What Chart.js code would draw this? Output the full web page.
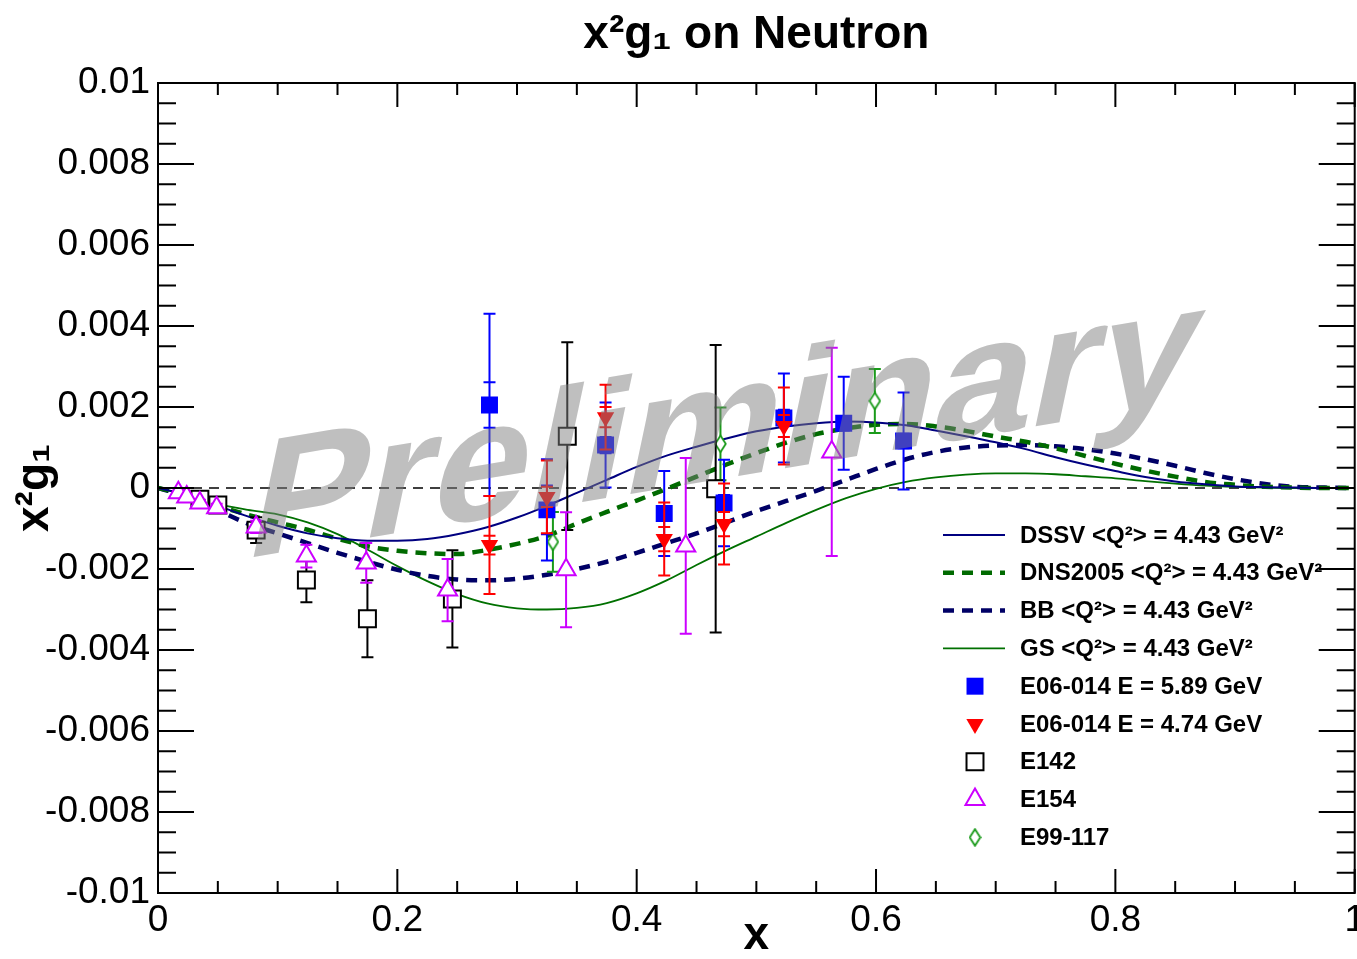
<!DOCTYPE html>
<html>
<head>
<meta charset="utf-8">
<title>x2g1 on Neutron</title>
<script src="https://cdn.jsdelivr.net/npm/chart.js@4.4.1/dist/chart.umd.min.js"></script>
<style>
  html, body { margin: 0; padding: 0; background: #fff; overflow: hidden; }
  #wrap { width: 1357px; height: 959px; overflow: hidden; }
</style>
</head>
<body>
<div id="wrap"><canvas id="g1-chart" width="1371" height="959"></canvas></div>
<script>
// Axis ticks
const xTickValues = [0, 0.2, 0.4, 0.6, 0.8, 1];
const xTickLabels = ['0', '0.2', '0.4', '0.6', '0.8', '1'];
const yTickValues = [-0.01, -0.008, -0.006, -0.004, -0.002, 0, 0.002, 0.004, 0.006, 0.008, 0.01];
const yTickLabels = ['-0.01', '-0.008', '-0.006', '-0.004', '-0.002', '0', '0.002', '0.004', '0.006', '0.008', '0.01'];

// Model curves, <Q^2> = 4.43 GeV^2
const curveX = [0, 0.025, 0.05, 0.075, 0.1, 0.125, 0.15, 0.175, 0.2, 0.225, 0.25, 0.275, 0.3, 0.325, 0.35, 0.375, 0.4,
  0.425, 0.45, 0.475, 0.5, 0.525, 0.55, 0.575, 0.6, 0.625, 0.65, 0.675, 0.7, 0.725, 0.75, 0.775, 0.8, 0.825, 0.85,
  0.875, 0.9, 0.925, 0.95, 0.975, 1];
const dssvY = [0, -0.00018, -0.00044, -0.00070, -0.00093, -0.00112, -0.00124, -0.00130, -0.00130, -0.00126, -0.00114,
  -0.00097, -0.00073, -0.00044, -0.00012, 0.00020, 0.00052, 0.00080, 0.00102, 0.00122, 0.00140, 0.00152, 0.00160,
  0.00164, 0.00162, 0.00155, 0.00142, 0.00128, 0.00113, 0.00096, 0.00076, 0.00058, 0.00042, 0.00027, 0.00016,
  0.00009, 0.00004, 0.00002, 0.00001, 0, 0];
const dnsY = [0, -0.00018, -0.00044, -0.00066, -0.00085, -0.00103, -0.00125, -0.00144, -0.00155, -0.00161, -0.00163,
  -0.00153, -0.00138, -0.00118, -0.00088, -0.00059, -0.00031, -0.00002, 0.00028, 0.00058, 0.00086, 0.00112, 0.00133,
  0.00147, 0.00156, 0.00158, 0.00152, 0.00141, 0.00127, 0.00114, 0.00098, 0.00079, 0.00060, 0.00043, 0.00028,
  0.00015, 0.00008, 0.00003, 0.00001, 0, 0];
const bbY = [0, -0.00022, -0.00055, -0.00088, -0.00112, -0.00136, -0.00160, -0.00182, -0.00202, -0.00217, -0.00226,
  -0.00228, -0.00224, -0.00214, -0.00200, -0.00182, -0.00160, -0.00136, -0.00112, -0.00085, -0.00057, -0.00032,
  -0.00007, 0.00020, 0.00047, 0.00071, 0.00089, 0.00100, 0.00105, 0.00106, 0.00103, 0.00096, 0.00085, 0.00071,
  0.00055, 0.00037, 0.00022, 0.00010, 0.00003, 0.00001, 0];
const gsY = [0, -0.00018, -0.00040, -0.00054, -0.00065, -0.00085, -0.00114, -0.00152, -0.00193, -0.00230, -0.00262,
  -0.00285, -0.00297, -0.00300, -0.00296, -0.00284, -0.00260, -0.00228, -0.00190, -0.00154, -0.00120, -0.00086,
  -0.00054, -0.00025, -0.00002, 0.00015, 0.00026, 0.00033, 0.00036, 0.00036, 0.00034, 0.00029, 0.00024, 0.00017,
  0.00011, 0.00006, 0.00003, 0.00001, 0, 0, 0];

// E06-014, E = 5.89 GeV (total and stat errors)
const e589X = [0.277, 0.325, 0.374, 0.423, 0.473, 0.523, 0.573, 0.623];
const e589Y = [0.00205, -0.00054, 0.00106, -0.00063, -0.00037, 0.00173, 0.00160, 0.00116];
const e589Err = [0.00225, 0.00125, 0.00105, 0.00105, 0.00107, 0.00110, 0.00115, 0.00120];
const e589Stat = [0.00056, 0.00060, 0.00020, 0.00018, 0.00020, 0.00020, 0.00018, 0.00018];

// E06-014, E = 4.74 GeV
const e474X = [0.277, 0.325, 0.374, 0.423, 0.473, 0.523];
const e474Y = [-0.00141, -0.00022, 0.00175, -0.00126, -0.00089, 0.00153];
const e474Err = [0.00121, 0.00090, 0.00080, 0.00090, 0.00100, 0.00095];
const e474Stat = [0.00023, 0.00025, 0.00025, 0.00030, 0.00030, 0.00027];

// E142
const e142X = [0.035, 0.050, 0.082, 0.124, 0.175, 0.246, 0.342, 0.466];
const e142Y = [-0.00028, -0.00042, -0.00104, -0.00227, -0.00323, -0.00274, 0.00128, -0.00002];
const e142Err = [0.00010, 0.00012, 0.00032, 0.00055, 0.00095, 0.00120, 0.00232, 0.00355];

// E154
const e154X = [0.017, 0.024, 0.035, 0.049, 0.082, 0.124, 0.174, 0.242, 0.341, 0.441, 0.563];
const e154Y = [-0.00012, -0.00022, -0.00037, -0.00049, -0.00096, -0.00168, -0.00185, -0.00252, -0.00202, -0.00143, 0.00089];
const e154Err = [0.00005, 0.00006, 0.00008, 0.00010, 0.00015, 0.00028, 0.00049, 0.00077, 0.00142, 0.00217, 0.00257];

// E99-117
const e99X = [0.330, 0.470, 0.599];
const e99Y = [-0.00133, 0.00109, 0.00215];
const e99Err = [0.00074, 0.00090, 0.00079];

const FONT = '"Liberation Sans", Arial, Helvetica, sans-serif';
Chart.defaults.font.family = FONT;
Chart.defaults.color = '#000';

function pts(xs, ys) {
  return xs.map((x, i) => ({x: x, y: ys[i]}));
}

// open diamond marker for E99-117
function makeDiamond(color) {
  const c = document.createElement('canvas');
  c.width = 13; c.height = 19;
  const g = c.getContext('2d');
  g.beginPath();
  g.moveTo(6.5, 1.2); g.lineTo(11.8, 9.5); g.lineTo(6.5, 17.8); g.lineTo(1.2, 9.5); g.closePath();
  g.fillStyle = '#fff'; g.fill();
  g.strokeStyle = color; g.lineWidth = 1.8; g.stroke();
  return c;
}

function curve(label, ys, color, width, dash) {
  return {
    label: label, type: 'line', data: pts(curveX, ys),
    borderColor: color, borderWidth: width, borderDash: dash,
    pointRadius: 0, cubicInterpolationMode: 'monotone', fill: false, order: 10
  };
}

const datasets = [
  curve('DSSV <Q²> = 4.43 GeV²', dssvY, '#000080', 2, []),
  curve('DNS2005 <Q²> = 4.43 GeV²', dnsY, '#006a00', 4.5, [11, 8]),
  curve('BB <Q²> = 4.43 GeV²', bbY, '#000066', 4.5, [11, 8]),
  curve('GS <Q²> = 4.43 GeV²', gsY, '#007000', 1.8, []),
  {label: 'E06-014 E = 5.89 GeV', data: pts(e589X, e589Y), errTot: e589Err, errStat: e589Stat,
    pointStyle: 'rect', pointRadius: 12, backgroundColor: '#0000ff', borderColor: '#0000ff', borderWidth: 0, order: 3},
  {label: 'E06-014 E = 4.74 GeV', data: pts(e474X, e474Y), errTot: e474Err, errStat: e474Stat,
    pointStyle: 'triangle', rotation: 180, pointRadius: 10, backgroundColor: '#ff0000', borderColor: '#ff0000', borderWidth: 0, order: 2},
  {label: 'E142', data: pts(e142X, e142Y), errTot: e142Err,
    pointStyle: 'rect', pointRadius: 12, backgroundColor: '#ffffff', borderColor: '#000000', borderWidth: 2, order: 5},
  {label: 'E154', data: pts(e154X, e154Y), errTot: e154Err,
    pointStyle: 'triangle', pointRadius: 11, backgroundColor: '#ffffff', borderColor: '#cc00ff', borderWidth: 2, order: 1},
  {label: 'E99-117', data: pts(e99X, e99Y), errTot: e99Err,
    pointStyle: makeDiamond('#1a9a1a'), pointRadius: 8, backgroundColor: '#ffffff', borderColor: '#1a9a1a', borderWidth: 2, order: 6}
];

// error bars drawn just before the markers of each data set
const errorBarPlugin = {
  id: 'errorBars',
  beforeDatasetDraw(chart, args) {
    const ds = chart.data.datasets[args.index];
    if (!ds.errTot) return;
    const xs = chart.scales.x, ys = chart.scales.y, ctx = chart.ctx;
    const cap = 6;
    ctx.save();
    ctx.strokeStyle = ds.borderColor;
    ctx.lineWidth = 2;
    ctx.beginPath();
    ds.data.forEach((p, i) => {
      const px = xs.getPixelForValue(p.x);
      const top = ys.getPixelForValue(p.y + ds.errTot[i]);
      const bot = ys.getPixelForValue(p.y - ds.errTot[i]);
      ctx.moveTo(px, top); ctx.lineTo(px, bot);
      ctx.moveTo(px - cap, top); ctx.lineTo(px + cap, top);
      ctx.moveTo(px - cap, bot); ctx.lineTo(px + cap, bot);
      if (ds.errStat) {
        const st = ys.getPixelForValue(p.y + ds.errStat[i]);
        const sb = ys.getPixelForValue(p.y - ds.errStat[i]);
        ctx.moveTo(px - cap, st); ctx.lineTo(px + cap, st);
        ctx.moveTo(px - cap, sb); ctx.lineTo(px + cap, sb);
      }
    });
    ctx.stroke();
    ctx.restore();
  }
};

function drawMarker(ctx, ds, x, y) {
  const st = ds.pointStyle, r = ds.pointRadius;
  ctx.save();
  ctx.translate(x, y);
  if (typeof st === 'object') {
    ctx.drawImage(st, -st.width / 2, -st.height / 2);
    ctx.restore();
    return;
  }
  ctx.beginPath();
  if (st === 'rect') {
    const h = r * Math.SQRT1_2;
    ctx.rect(-h, -h, 2 * h, 2 * h);
  } else if (st === 'triangle') {
    ctx.rotate((ds.rotation || 0) * Math.PI / 180);
    ctx.moveTo(0, -r);
    ctx.lineTo(r * Math.sin(2 * Math.PI / 3), -r * Math.cos(2 * Math.PI / 3));
    ctx.lineTo(r * Math.sin(4 * Math.PI / 3), -r * Math.cos(4 * Math.PI / 3));
    ctx.closePath();
  }
  ctx.fillStyle = ds.backgroundColor;
  ctx.fill();
  if (ds.borderWidth) {
    ctx.strokeStyle = ds.borderColor;
    ctx.lineWidth = ds.borderWidth;
    ctx.stroke();
  }
  ctx.restore();
}

// frame with inward ticks, zero line, legend and the watermark
const framePlugin = {
  id: 'frame',
  beforeDatasetsDraw(chart) {
    const {ctx, chartArea: a, scales: {y: ys}} = chart;
    const y0 = ys.getPixelForValue(0);
    ctx.save();
    ctx.strokeStyle = '#000';
    ctx.lineWidth = 1.5;
    ctx.setLineDash([10, 7]);
    ctx.beginPath();
    ctx.moveTo(a.left, y0); ctx.lineTo(a.right, y0);
    ctx.stroke();
    ctx.restore();
  },
  afterDraw(chart) {
    const {ctx, chartArea: a, scales: {x: xs, y: ys}} = chart;
    ctx.save();
    ctx.strokeStyle = '#000';
    ctx.lineWidth = 2;
    ctx.strokeRect(a.left, a.top, a.right - a.left, a.bottom - a.top);
    ctx.beginPath();
    for (let k = 0; k <= 20; k++) {
      const px = xs.getPixelForValue(k * 0.05);
      const len = k % 4 === 0 ? 24 : 12;
      ctx.moveTo(px, a.bottom); ctx.lineTo(px, a.bottom - len);
      ctx.moveTo(px, a.top); ctx.lineTo(px, a.top + len);
    }
    for (let k = 0; k <= 40; k++) {
      const py = ys.getPixelForValue(-0.01 + k * 0.0005);
      const len = k % 4 === 0 ? 36 : 18;
      ctx.moveTo(a.left, py); ctx.lineTo(a.left + len, py);
      ctx.moveTo(a.right, py); ctx.lineTo(a.right - len, py);
    }
    ctx.stroke();

    // legend
    const lx = 943, ly = 535, dy = 37.8, tx = 1020;
    ctx.font = 'bold 24px ' + FONT;
    ctx.textBaseline = 'middle';
    ctx.textAlign = 'left';
    chart.data.datasets.forEach((ds, i) => {
      const y = ly + i * dy;
      if (ds.type === 'line') {
        ctx.save();
        ctx.strokeStyle = ds.borderColor;
        ctx.lineWidth = ds.borderWidth;
        ctx.setLineDash(ds.borderDash);
        ctx.beginPath();
        ctx.moveTo(lx, y); ctx.lineTo(lx + 62, y);
        ctx.stroke();
        ctx.restore();
      } else {
        drawMarker(ctx, ds, lx + 32, y);
      }
      ctx.fillStyle = '#000';
      ctx.fillText(ds.label, tx, y + 1);
    });

    // watermark: rotated, slightly slanted
    const base = 9.5 * Math.PI / 180, lean = 12 * Math.PI / 180;
    ctx.save();
    ctx.transform(Math.cos(base), -Math.sin(base), -Math.sin(lean), Math.cos(lean), 242, 559);
    ctx.font = 'bold 176px ' + FONT;
    ctx.textBaseline = 'alphabetic';
    ctx.textAlign = 'left';
    ctx.fillStyle = 'rgba(128, 128, 128, 0.5)';
    ctx.fillText('Preliminary', 0, 0);
    ctx.restore();
    ctx.restore();
  }
};

new Chart(document.getElementById('g1-chart'), {
  type: 'scatter',
  data: {datasets: datasets},
  options: {
    responsive: false,
    animation: false,
    devicePixelRatio: 1,
    layout: {padding: 0},
    plugins: {
      legend: {display: false},
      tooltip: {enabled: false},
      title: {
        display: true, text: 'x²g₁ on Neutron', fullSize: false, color: '#000',
        font: {size: 46, weight: 'bold', lineHeight: 1.2}, padding: {top: 8, bottom: 19.8}
      }
    },
    scales: {
      x: {
        type: 'linear', min: 0, max: 1,
        afterBuildTicks: s => { s.ticks = xTickValues.map(v => ({value: v})); },
        afterFit: s => { s.height = 66; },
        ticks: {callback: (v, i) => xTickLabels[i], font: {size: 37}, padding: 6, maxRotation: 0, autoSkip: false},
        grid: {display: false, drawTicks: false},
        border: {display: false},
        title: {display: true, text: 'x', font: {size: 46, weight: 'bold', lineHeight: 1}, padding: {top: 0, bottom: 0}}
      },
      y: {
        type: 'linear', min: -0.01, max: 0.01,
        afterBuildTicks: s => { s.ticks = yTickValues.map(v => ({value: v})); },
        afterFit: s => { s.width = 158; },
        ticks: {callback: (v, i) => yTickLabels[i], font: {size: 37}, padding: 8, autoSkip: false},
        grid: {display: false, drawTicks: false},
        border: {display: false},
        title: {display: true, text: 'x²g₁', font: {size: 46, weight: 'bold', lineHeight: 1}, padding: {top: 12, bottom: 0}}
      }
    }
  },
  plugins: [errorBarPlugin, framePlugin]
});
</script>
</body>
</html>
